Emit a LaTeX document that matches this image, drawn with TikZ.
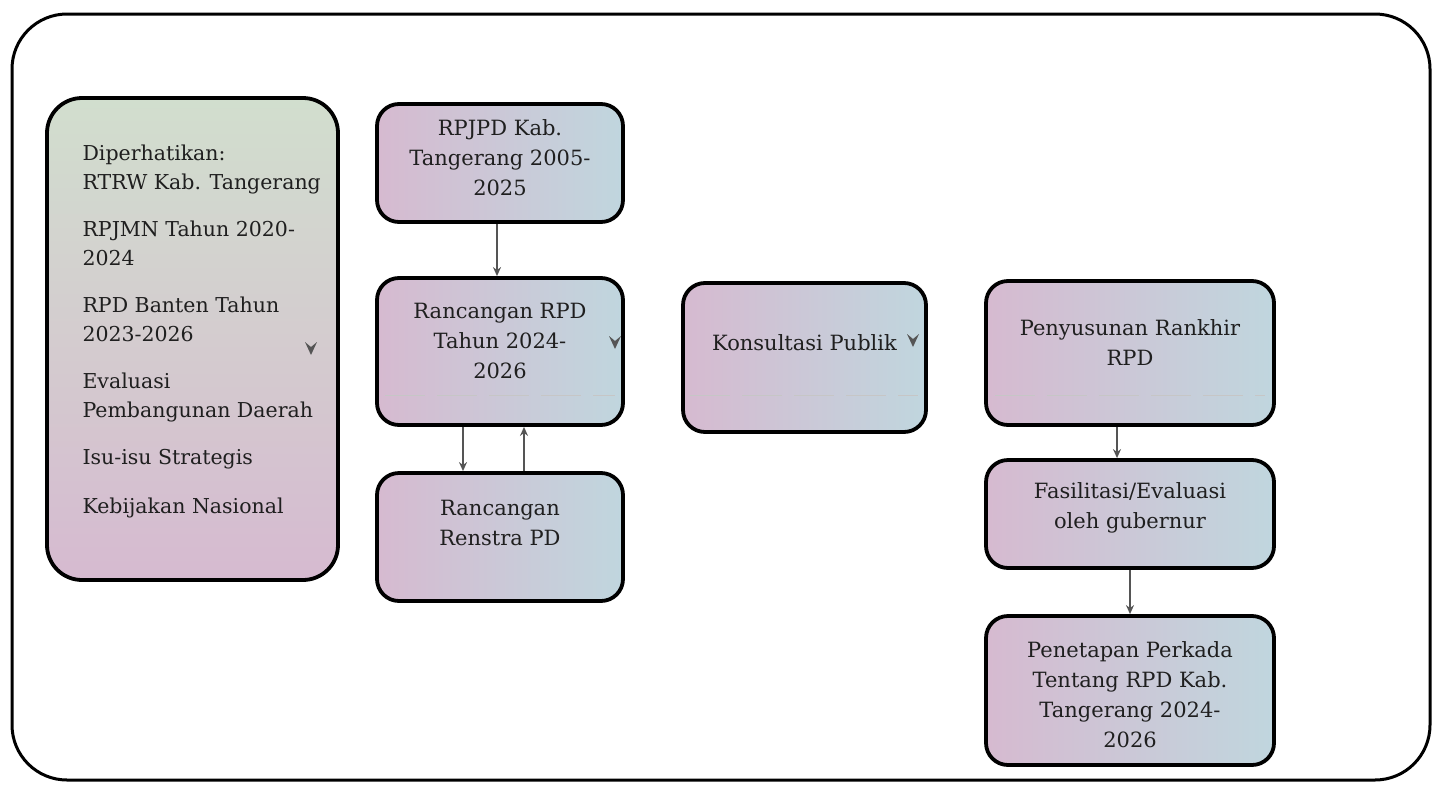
\documentclass[tikz,border=0pt]{standalone}
\usepackage{fontspec}
\setmainfont{DejaVu Serif}
\usetikzlibrary{arrows.meta,calc}
\definecolor{shpink}{RGB}{214,186,208}
\definecolor{shgreen}{RGB}{198,214,194}
\definecolor{shblue}{RGB}{192,214,222}
\definecolor{arrowgray}{RGB}{85,85,85}
\tikzset{
  box/.style={draw=black, line width=3.8pt, rounded corners=22pt, left color=shpink, middle color=shgreen, right color=shblue, inner sep=0pt},
  txt/.style={align=center, font=\fontsize{21}{30}\selectfont, text=black!88},
  conn/.style={draw=arrowgray, line width=1.4pt, -{Stealth[length=9pt,width=8pt]}},
  faint/.style={draw=gray!45, line width=0.8pt, dash pattern=on 40pt off 12pt},
  vmark/.style={fill=arrowgray}
}
\begin{document}
\begin{tikzpicture}[x=1pt,y=-1pt]
\useasboundingbox (0,0) rectangle (1442,790);
\node[draw=black, line width=3pt, rounded corners=55pt, minimum width=1418pt, minimum height=766pt, inner sep=0pt] (frame) at (721,397) {};
% left box
\node[box, rounded corners=35pt, minimum width=291pt, minimum height=482pt, shading angle=0, top color=shgreen!80!white, middle color=shpink!80!white, bottom color=shpink] (left) at (192.5,339) {};
\node[anchor=north west, align=left, font=\fontsize{20.5}{29}\selectfont, text=black!88] (lefttxt) at (79,141) {Diperhatikan:\\RTRW Kab. Tangerang\\[18pt]RPJMN Tahun 2020-\\2024\\[18pt]RPD Banten Tahun\\2023-2026\\[18pt]Evaluasi\\Pembangunan Daerah\\[18pt]Isu-isu Strategis\\[20pt]Kebijakan Nasional};
% middle column
\node[box, minimum width=246pt, minimum height=118pt] (rpjpd) at (500,163) {};
\node[txt] (rpjpdt) at (500,158) {RPJPD Kab.\\Tangerang 2005-\\2025};
\node[box, minimum width=246pt, minimum height=147pt] (rrpd) at (500,351.5) {};
\node[txt] (rrpdt) at (500,341) {Rancangan RPD\\Tahun 2024-\\2026};
\node[box, minimum width=246pt, minimum height=128pt] (renstra) at (500,537) {};
\node[txt] (renstrat) at (500,523) {Rancangan\\Renstra PD};
% konsultasi
\node[box, minimum width=243pt, minimum height=149pt] (kons) at (804.5,357.5) {};
\node[txt] (konst) at (804.5,343) {Konsultasi Publik};
% right column
\node[box, minimum width=288pt, minimum height=144pt] (peny) at (1130,353) {};
\node[txt] (penyt) at (1130,343) {Penyusunan Rankhir\\RPD};
\node[box, minimum width=288pt, minimum height=108pt] (fasil) at (1130,514) {};
\node[txt] (fasilt) at (1130,508) {Fasilitasi/Evaluasi\\oleh gubernur};
\node[box, minimum width=288pt, minimum height=149pt] (penet) at (1130,690.5) {};
\node[txt] (penett) at (1130,695) {Penetapan Perkada\\Tentang RPD Kab.\\Tangerang 2024-\\2026};
% faint lines
\draw[faint] (385,395) -- (615,395);
\draw[faint] (690,395) -- (918,395);
\draw[faint] (995,395) -- (1265,395);
% connectors
\draw[conn] (rpjpd.south -| 497,0) -- (rrpd.north -| 497,0);
\draw[conn] (rrpd.south -| 463,0) -- (renstra.north -| 463,0);
\draw[conn] (renstra.north -| 524,0) -- (rrpd.south -| 524,0);
\draw[conn] (peny.south -| 1117,0) -- (fasil.north -| 1117,0);
\draw[conn] (fasil.south -| 1130,0) -- (penet.north -| 1130,0);
% small stray arrowheads
\coordinate (v1) at (311,348);
\coordinate (v2) at (615,342);
\coordinate (v3) at (913,340);
\foreach \v in {v1,v2,v3}{
  \fill[vmark] ($(\v)+(-6,-6)$) -- ($(\v)+(0,7)$) -- ($(\v)+(6,-6)$) -- ($(\v)+(0,-1)$) -- cycle;
}
\end{tikzpicture}
\end{document}
